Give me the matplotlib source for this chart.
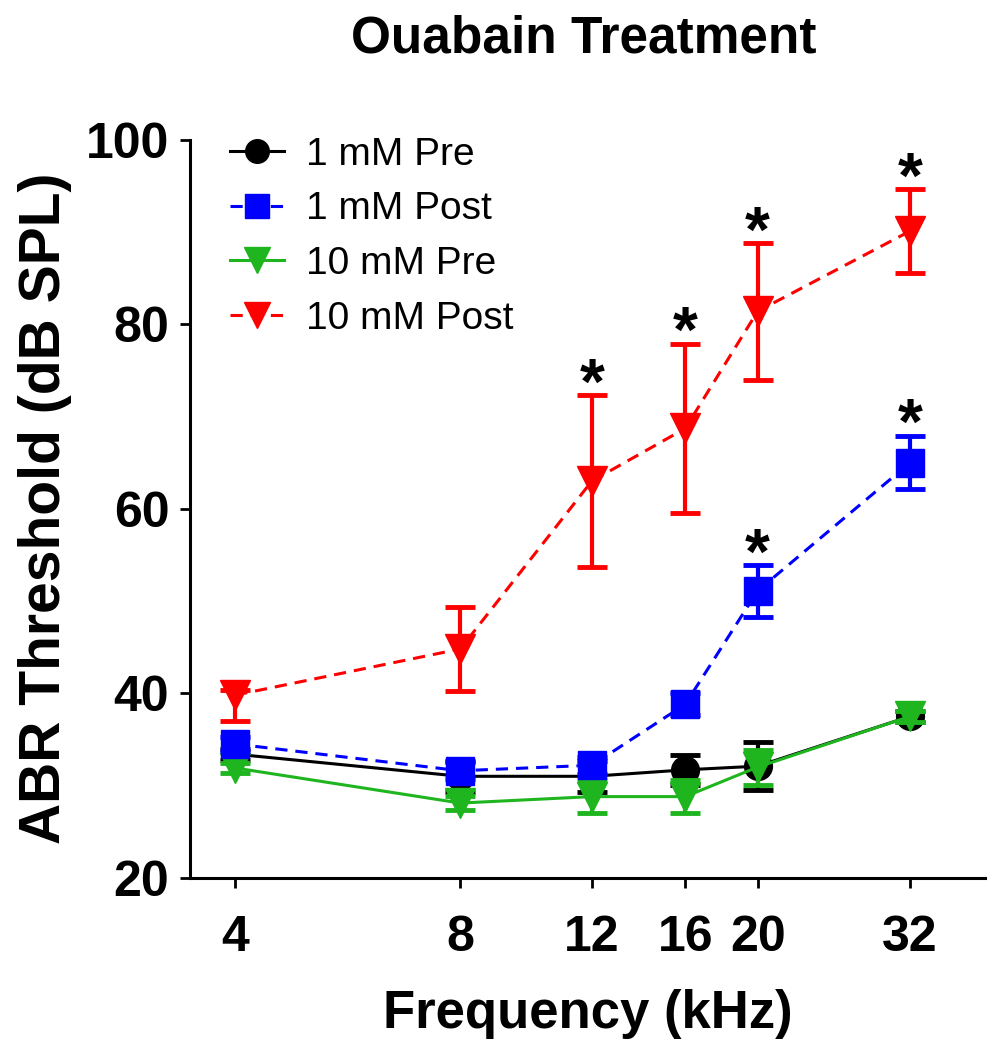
import numpy as np
import matplotlib.pyplot as plt
from matplotlib.lines import Line2D

plt.rcParams['font.family'] = ['Liberation Sans', 'DejaVu Sans']

freqs = [4, 8, 12, 16, 20, 32]
freq_labels = ['4', '8', '12', '16', '20', '32']

pre_1mm = [33.4, 31.0, 31.0, 31.7, 32.1, 37.5]
pre_1mm_err = [0.6, 1.7, 1.7, 1.6, 2.6, 0.6]

post_1mm = [34.5, 31.6, 32.2, 38.8, 51.1, 65.0]
post_1mm_err = [0.8, 0.9, 0.9, 1.2, 2.8, 2.9]

pre_10mm = [31.9, 28.1, 28.8, 28.8, 32.0, 37.5]
pre_10mm_err = [0.5, 0.8, 1.8, 1.8, 1.9, 0.6]

post_10mm = [39.8, 44.8, 63.0, 68.7, 81.4, 90.1]
post_10mm_lo = [2.8, 4.6, 9.3, 9.2, 7.4, 4.5]
post_10mm_hi = [0.5, 4.6, 9.3, 9.2, 7.4, 4.5]

# frequencies with a significant post-treatment shift
sig_1mm = [20, 32]
sig_10mm = [12, 16, 20, 32]

fig = plt.figure(figsize=(9.9, 10.5), dpi=100)
ax = fig.add_axes([0.192, 0.164, 0.803, 0.703])

green = '#1fb51f'
series = [
    (pre_1mm, pre_1mm_err, 'o', 'black', '-', '1 mM Pre', 20, 2),
    (post_1mm, post_1mm_err, 's', '#0000ff', '--', '1 mM Post', 20, 4),
    (pre_10mm, pre_10mm_err, 'v', green, '-', '10 mM Pre', 22, 3),
    (post_10mm, [post_10mm_lo, post_10mm_hi], 'v', '#ff0000', '--', '10 mM Post', 22, 5),
]

handles = []
for y, err, m, c, ls, lab, ms, z in series:
    eb = ax.errorbar(freqs, y, yerr=err, fmt=m, ls=ls, color=c, ms=ms, mec=c,
                     lw=2.2, elinewidth=3, capsize=11, capthick=3.5, zorder=z)
    if ls == '--':
        eb[0].set_dashes((4, 2.6))
    h = Line2D([], [], marker=m, ls=ls, color=c, ms=ms * 0.85, lw=2.2, label=lab)
    if ls == '--':
        h.set_dashes((4, 2.6))
    handles.append(h)

for f in sig_1mm:
    i = freqs.index(f)
    ax.annotate('*', (f, post_1mm[i] + post_1mm_err[i]), xytext=(0, -6),
                textcoords='offset points', ha='center', va='baseline',
                fontsize=46, fontweight='bold')
for f in sig_10mm:
    i = freqs.index(f)
    ax.annotate('*', (f, post_10mm[i] + post_10mm_hi[i]), xytext=(0, -6),
                textcoords='offset points', ha='center', va='baseline',
                fontsize=46, fontweight='bold')

ax.set_xscale('log', base=2)
ax.set_xlim(3.48, 40.3)
ax.set_ylim(20, 100)
ax.set_xticks(freqs)
ax.set_xticklabels(freq_labels)
ax.minorticks_off()
ax.set_yticks([20, 40, 60, 80, 100])

for s in ['top', 'right']:
    ax.spines[s].set_visible(False)
for s in ['left', 'bottom']:
    ax.spines[s].set_linewidth(2.2)
ax.tick_params(width=2, length=7, labelsize=36)
ax.tick_params(axis='x', pad=20)
ax.tick_params(axis='y', pad=8)
for t in ax.get_xticklabels() + ax.get_yticklabels():
    t.set_fontweight('bold')

ax.set_xlabel('Frequency (kHz)', fontsize=38, fontweight='bold', labelpad=20)
ax.set_ylabel('ABR Threshold (dB SPL)', fontsize=41, fontweight='bold', labelpad=10)
fig.text(0.59, 0.963, 'Ouabain Treatment', ha='center', va='center',
         fontsize=37, fontweight='bold')

ax.legend(handles=handles, loc='upper left', bbox_to_anchor=(0.05, 1.004),
          frameon=False, fontsize=28, handlelength=1.4, handletextpad=0.55,
          labelspacing=0.48, borderaxespad=0, borderpad=0)

fig.savefig('out.png', dpi=100)
